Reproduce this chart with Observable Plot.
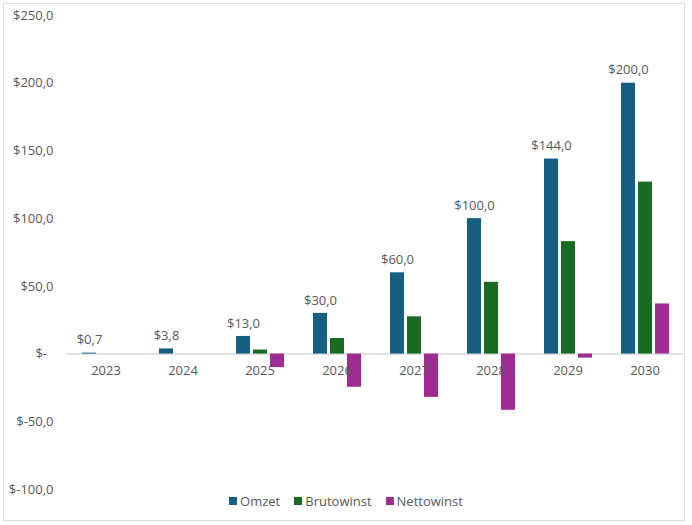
<!DOCTYPE html>
<html>
<head>
<meta charset="utf-8">
<script src="https://cdn.jsdelivr.net/npm/d3@7"></script>
<script src="https://cdn.jsdelivr.net/npm/@observablehq/plot@0.6"></script>
<style>
  html, body { margin: 0; padding: 0; background: #fff; }
  body { width: 692px; height: 525px; position: relative; overflow: hidden; font-family: "Open Sans", sans-serif; }
  #frame { position: absolute; left: 3px; top: 3px; width: 682px; height: 518px; border: 1px solid #d9d9d9; box-sizing: border-box; }
  #chart { position: absolute; left: 0; top: 0; }
  #legend { position: absolute; left: 0; top: 492px; width: 692px; display: flex; justify-content: center; gap: 14px; font-size: 13px; color: #595959; line-height: 18px; }
  #legend span.item { display: flex; align-items: center; }
  #legend span.sw { display: inline-block; width: 8px; height: 8px; margin-right: 3px; }
</style>
</head>
<body>
<div id="frame"></div>
<div id="chart"></div>
<div id="legend"></div>
<script>
const years = ["2023", "2024", "2025", "2026", "2027", "2028", "2029", "2030"];
const seriesNames = ["Omzet", "Brutowinst", "Nettowinst"];
const omzet = [0.7, 3.8, 13, 30, 60, 100, 144, 200];
const brutowinst = [0, 0, 3, 11.5, 27.5, 53, 83, 127];
const nettowinst = [0, 0, -10, -24.5, -32, -41.5, -3, 37];
const yTicks = [-100, -50, 0, 50, 100, 150, 200, 250];
const colors = ["#156082", "#196B24", "#A02B93"];

const valuesBySeries = [omzet, brutowinst, nettowinst];
const data = [];
seriesNames.forEach((s, si) => {
  years.forEach((y, yi) => data.push({year: y, series: s, value: valuesBySeries[si][yi]}));
});
const omzetData = years.map((y, i) => ({year: y, series: "Omzet", value: omzet[i]}));
const yearLabels = years.map(y => ({year: y, zero: 0}));

const money = d => d === 0 ? "$-\u2002" : "$" + d.toFixed(1).replace(".", ",");

const txt = "#595959";
const chart = Plot.plot({
  width: 692,
  height: 500,
  marginTop: 15,
  marginBottom: 11,
  marginLeft: 65,
  marginRight: 7,
  style: {fontFamily: "Open Sans, sans-serif", fontSize: "13px", color: txt, background: "transparent", overflow: "visible"},
  fx: {domain: years, padding: 0, axis: null, label: null},
  x: {domain: seriesNames, paddingInner: 0.2, paddingOuter: 0.81, axis: null, label: null},
  y: {domain: [-100, 250], ticks: yTicks, tickFormat: money, tickSize: 0, tickPadding: 14, label: null, line: false},
  color: {domain: seriesNames, range: colors},
  marks: [
    Plot.ruleY([0], {stroke: "#d9d9d9", strokeWidth: 1.5}),
    Plot.barY(data, {fx: "year", x: "series", y: "value", fill: "series"}),
    Plot.text(omzetData, {fx: "year", x: "series", y: "value", text: d => money(d.value), dy: -13, fill: txt, fontSize: 13}),
    Plot.text(yearLabels, {fx: "year", y: "zero", text: "year", dy: 17, fill: txt, fontSize: 13})
  ]
});
document.getElementById("chart").appendChild(chart);

const legend = document.getElementById("legend");
seriesNames.forEach((s, i) => {
  const item = document.createElement("span");
  item.className = "item";
  const sw = document.createElement("span");
  sw.className = "sw";
  sw.style.background = colors[i];
  item.appendChild(sw);
  item.appendChild(document.createTextNode(s));
  legend.appendChild(item);
});
</script>
</body>
</html>
